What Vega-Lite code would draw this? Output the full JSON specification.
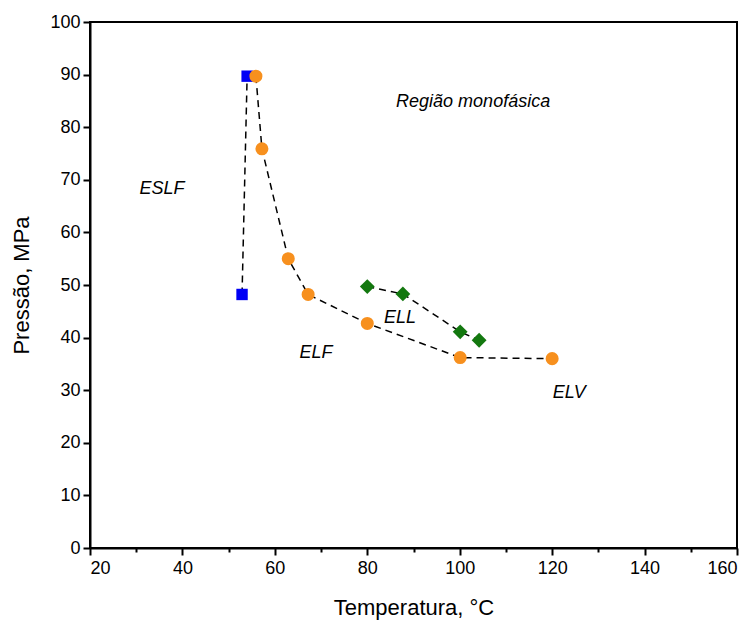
{
  "$schema": "https://vega.github.io/schema/vega-lite/v6.json",
  "autosize": "none",
  "width": 647,
  "height": 526,
  "padding": {"left": 90, "top": 22, "right": 18, "bottom": 75},
  "background": "white",
  "config": {
    "font": "Liberation Sans",
    "view": {"stroke": "black", "strokeWidth": 2},
    "axis": {
      "domainColor": "black",
      "domainWidth": 2,
      "tickColor": "black",
      "tickWidth": 2,
      "grid": false,
      "labelColor": "black",
      "titleColor": "black",
      "labelFont": "Liberation Sans",
      "titleFont": "Liberation Sans",
      "labelFontSize": 18,
      "titleFontSize": 22,
      "titleFontWeight": "normal"
    }
  },
  "datasets": {
    "pts": [
      {"T": 52.9, "P": 48.2, "s": "ESLF"},
      {"T": 54.0, "P": 89.7, "s": "ESLF"},
      {"T": 55.9, "P": 89.7, "s": "ELF"},
      {"T": 57.2, "P": 75.9, "s": "ELF"},
      {"T": 62.9, "P": 55.0, "s": "ELF"},
      {"T": 67.2, "P": 48.2, "s": "ELF"},
      {"T": 80.0, "P": 42.7, "s": "ELF"},
      {"T": 100.1, "P": 36.2, "s": "ELF"},
      {"T": 120.0, "P": 36.0, "s": "ELF"},
      {"T": 80.0, "P": 49.7, "s": "ELL"},
      {"T": 87.7, "P": 48.3, "s": "ELL"},
      {"T": 100.1, "P": 41.1, "s": "ELL"},
      {"T": 104.2, "P": 39.5, "s": "ELL"}
    ],
    "labels": [
      {"T": 35.6, "P": 68.3, "txt": "ESLF"},
      {"T": 102.9, "P": 84.8, "txt": "Região monofásica"},
      {"T": 87.1, "P": 43.7, "txt": "ELL"},
      {"T": 68.9, "P": 37.1, "txt": "ELF"},
      {"T": 123.7, "P": 29.5, "txt": "ELV"}
    ]
  },
  "layer": [
    {
      "data": {"name": "pts"},
      "mark": {"type": "line", "color": "black", "strokeWidth": 1.5, "strokeDash": [7, 5]},
      "encoding": {
        "x": {
          "field": "T", "type": "quantitative",
          "scale": {"domain": [20, 160], "nice": false, "zero": false},
          "axis": {
            "title": "Temperatura, °C",
            "values": [20, 30, 40, 50, 60, 70, 80, 90, 100, 110, 120, 130, 140, 150, 160],
            "labelExpr": "datum.value % 20 === 0 ? datum.label : ''",
            "tickSize": {"condition": {"test": "datum.value % 20 !== 0", "value": 4}, "value": 7},
            "labelPadding": 4,
            "titlePadding": 20
          }
        },
        "y": {
          "field": "P", "type": "quantitative",
          "scale": {"domain": [0, 100], "nice": false},
          "axis": {
            "title": "Pressão, MPa",
            "values": [0, 5, 10, 15, 20, 25, 30, 35, 40, 45, 50, 55, 60, 65, 70, 75, 80, 85, 90, 95, 100],
            "labelExpr": "datum.value % 10 === 0 ? datum.label : ''",
            "tickSize": {"condition": {"test": "datum.value % 10 !== 0", "value": 4}, "value": 7},
            "labelPadding": 3,
            "titlePadding": 16
          }
        },
        "detail": {"field": "s"}
      }
    },
    {
      "data": {"name": "pts"},
      "transform": [{"filter": "datum.s === 'ESLF'"}],
      "mark": {"type": "point", "filled": true, "opacity": 1, "shape": "square", "size": 130, "color": "#0000F5"},
      "encoding": {
        "x": {"field": "T", "type": "quantitative"},
        "y": {"field": "P", "type": "quantitative"}
      }
    },
    {
      "data": {"name": "pts"},
      "transform": [{"filter": "datum.s === 'ELF'"}],
      "mark": {"type": "point", "filled": true, "opacity": 1, "shape": "circle", "size": 170, "color": "#F7901E"},
      "encoding": {
        "x": {"field": "T", "type": "quantitative"},
        "y": {"field": "P", "type": "quantitative"}
      }
    },
    {
      "data": {"name": "pts"},
      "transform": [{"filter": "datum.s === 'ELL'"}],
      "mark": {"type": "point", "filled": true, "opacity": 1, "shape": "diamond", "size": 220, "color": "#13780F"},
      "encoding": {
        "x": {"field": "T", "type": "quantitative"},
        "y": {"field": "P", "type": "quantitative"}
      }
    },
    {
      "data": {"name": "labels"},
      "mark": {"type": "text", "fontStyle": "italic", "fontSize": 18, "font": "Liberation Sans", "color": "black", "align": "center", "baseline": "middle"},
      "encoding": {
        "x": {"field": "T", "type": "quantitative"},
        "y": {"field": "P", "type": "quantitative"},
        "text": {"field": "txt"}
      }
    }
  ]
}
